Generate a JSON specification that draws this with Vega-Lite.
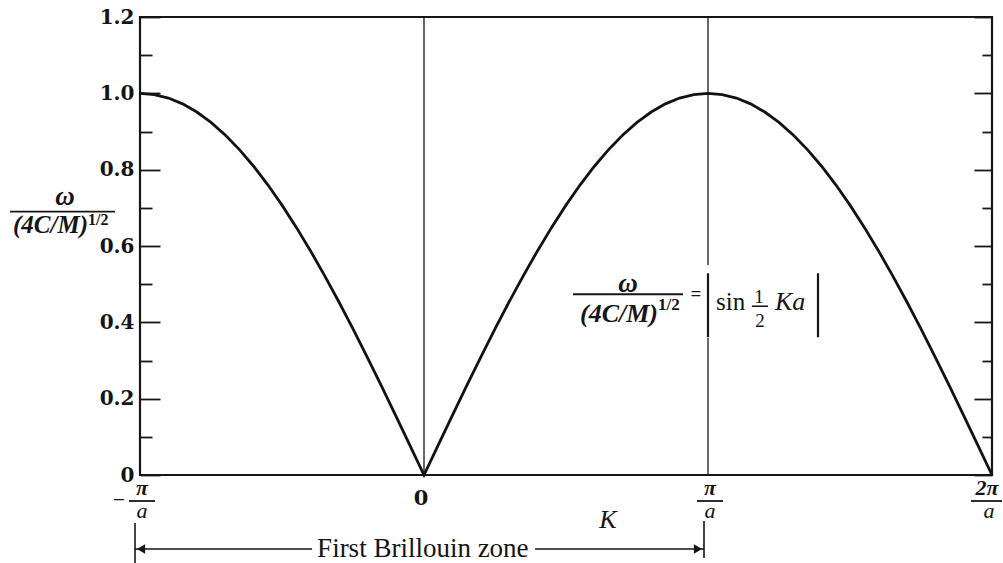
{
  "$schema": "https://vega.github.io/schema/vega-lite/v6.json",
  "width": 852,
  "height": 458,
  "autosize": {"type": "none"},
  "padding": {"left": 140, "top": 17, "right": 11, "bottom": 88},
  "background": "#ffffff",
  "config": {
    "view": {"stroke": "#161616", "strokeWidth": 2.2},
    "font": "Liberation Serif",
    "text": {"color": "#141414", "font": "Liberation Serif"},
    "rule": {"color": "#161616"}
  },
  "datasets": {
    "curve": [
      {"K": -1.0, "w": 1.0}, {"K": -0.95, "w": 0.9969}, {"K": -0.9, "w": 0.9877}, {"K": -0.85, "w": 0.9724},
      {"K": -0.8, "w": 0.9511}, {"K": -0.75, "w": 0.9239}, {"K": -0.7, "w": 0.891}, {"K": -0.65, "w": 0.8526},
      {"K": -0.6, "w": 0.809}, {"K": -0.55, "w": 0.7604}, {"K": -0.5, "w": 0.7071}, {"K": -0.45, "w": 0.6494},
      {"K": -0.4, "w": 0.5878}, {"K": -0.35, "w": 0.5225}, {"K": -0.3, "w": 0.454}, {"K": -0.25, "w": 0.3827},
      {"K": -0.2, "w": 0.309}, {"K": -0.15, "w": 0.2334}, {"K": -0.1, "w": 0.1564}, {"K": -0.05, "w": 0.0785},
      {"K": 0.0, "w": 0.0},
      {"K": 0.05, "w": 0.0785}, {"K": 0.1, "w": 0.1564}, {"K": 0.15, "w": 0.2334}, {"K": 0.2, "w": 0.309},
      {"K": 0.25, "w": 0.3827}, {"K": 0.3, "w": 0.454}, {"K": 0.35, "w": 0.5225}, {"K": 0.4, "w": 0.5878},
      {"K": 0.45, "w": 0.6494}, {"K": 0.5, "w": 0.7071}, {"K": 0.55, "w": 0.7604}, {"K": 0.6, "w": 0.809},
      {"K": 0.65, "w": 0.8526}, {"K": 0.7, "w": 0.891}, {"K": 0.75, "w": 0.9239}, {"K": 0.8, "w": 0.9511},
      {"K": 0.85, "w": 0.9724}, {"K": 0.9, "w": 0.9877}, {"K": 0.95, "w": 0.9969}, {"K": 1.0, "w": 1.0},
      {"K": 1.05, "w": 0.9969}, {"K": 1.1, "w": 0.9877}, {"K": 1.15, "w": 0.9724}, {"K": 1.2, "w": 0.9511},
      {"K": 1.25, "w": 0.9239}, {"K": 1.3, "w": 0.891}, {"K": 1.35, "w": 0.8526}, {"K": 1.4, "w": 0.809},
      {"K": 1.45, "w": 0.7604}, {"K": 1.5, "w": 0.7071}, {"K": 1.55, "w": 0.6494}, {"K": 1.6, "w": 0.5878},
      {"K": 1.65, "w": 0.5225}, {"K": 1.7, "w": 0.454}, {"K": 1.75, "w": 0.3827}, {"K": 1.8, "w": 0.309},
      {"K": 1.85, "w": 0.2334}, {"K": 1.9, "w": 0.1564}, {"K": 1.95, "w": 0.0785}, {"K": 2.0, "w": 0.0}
    ],
    "guides": [
      {"K": 0, "lo": 0, "hi": 1.2},
      {"K": 1, "lo": 0, "hi": 0.359},
      {"K": 1, "lo": 0.55, "hi": 1.2}
    ],
    "pi_over_a": [
      {"K": -1, "num": "π", "den": "a"},
      {"K": 1, "num": "π", "den": "a"}
    ],
    "two_pi_over_a": [
      {"K": 2, "num": "2π", "den": "a"}
    ]
  },
  "data": {"values": [{}]},
  "resolve": {"axis": {"y": "independent"}},
  "layer": [
    {
      "data": {"name": "guides"},
      "mark": {"type": "rule", "strokeWidth": 1.3},
      "encoding": {
        "x": {"field": "K", "type": "quantitative", "scale": {"domain": [-1, 2], "nice": false, "zero": false}, "axis": null},
        "y": {
          "field": "lo", "type": "quantitative",
          "scale": {"domain": [0, 1.2], "nice": false, "zero": false},
          "axis": {
            "orient": "left", "domain": false, "grid": false, "title": null,
            "values": [0, 0.1, 0.2, 0.3, 0.4, 0.5, 0.6, 0.7, 0.8, 0.9, 1, 1.1, 1.2],
            "tickColor": "#161616", "tickWidth": 1.8,
            "tickSize": {"condition": {"test": "round(datum.value*10)%2==0", "value": -20}, "value": -12},
            "labelExpr": "round(datum.value*10)%2==0 ? (datum.value==0 ? '0' : format(datum.value,'.1f')) : ''",
            "labelFont": "DejaVu Serif", "labelFontWeight": "bold", "labelFontSize": 20, "labelColor": "#141414",
            "labelPadding": 26, "labelOverlap": false, "labelBound": false, "labelFlush": false
          }
        },
        "y2": {"field": "hi"}
      }
    },
    {
      "data": {"name": "curve"},
      "mark": {"type": "line", "color": "#121212", "strokeWidth": 2.8, "interpolate": "linear"},
      "encoding": {
        "x": {"field": "K", "type": "quantitative", "scale": {"domain": [-1, 2]}, "axis": null},
        "y": {
          "field": "w", "type": "quantitative",
          "scale": {"domain": [0, 1.2]},
          "axis": {
            "orient": "right", "domain": false, "grid": false, "title": null, "labels": false,
            "values": [0, 0.1, 0.2, 0.3, 0.4, 0.5, 0.6, 0.7, 0.8, 0.9, 1, 1.1, 1.2],
            "tickColor": "#161616", "tickWidth": 1.8,
            "tickSize": {"condition": {"test": "round(datum.value*10)%2==0", "value": -18}, "value": -10}
          }
        }
      }
    },

    {
      "data": {"name": "pi_over_a"},
      "mark": {"type": "text", "fontSize": 22, "fontStyle": "italic", "fontWeight": "bold", "baseline": "alphabetic", "dx": 2, "dy": 20},
      "encoding": {
        "x": {"field": "K", "type": "quantitative", "scale": {"domain": [-1, 2]}, "axis": null},
        "y": {"datum": 0, "type": "quantitative", "scale": {"domain": [0, 1.2]}, "axis": null},
        "text": {"field": "num"}
      }
    },
    {
      "data": {"name": "pi_over_a"},
      "mark": {"type": "rule", "strokeWidth": 1.8, "xOffset": -11, "x2Offset": 15, "yOffset": 26},
      "encoding": {
        "x": {"field": "K", "type": "quantitative", "scale": {"domain": [-1, 2]}, "axis": null},
        "x2": {"field": "K"},
        "y": {"datum": 0, "type": "quantitative", "scale": {"domain": [0, 1.2]}, "axis": null}
      }
    },
    {
      "data": {"name": "pi_over_a"},
      "mark": {"type": "text", "fontSize": 22, "fontStyle": "italic", "baseline": "alphabetic", "dx": 2, "dy": 43},
      "encoding": {
        "x": {"field": "K", "type": "quantitative", "scale": {"domain": [-1, 2]}, "axis": null},
        "y": {"datum": 0, "type": "quantitative", "scale": {"domain": [0, 1.2]}, "axis": null},
        "text": {"field": "den"}
      }
    },
    {
      "mark": {"type": "text", "text": "−", "fontSize": 22, "baseline": "middle", "dx": -21, "dy": 25},
      "encoding": {
        "x": {"datum": -1, "type": "quantitative", "scale": {"domain": [-1, 2]}, "axis": null},
        "y": {"datum": 0, "type": "quantitative", "scale": {"domain": [0, 1.2]}, "axis": null}
      }
    },
    {
      "data": {"name": "two_pi_over_a"},
      "mark": {"type": "text", "fontSize": 22, "fontStyle": "italic", "fontWeight": "bold", "baseline": "alphabetic", "dx": -5, "dy": 20},
      "encoding": {
        "x": {"field": "K", "type": "quantitative", "scale": {"domain": [-1, 2]}, "axis": null},
        "y": {"datum": 0, "type": "quantitative", "scale": {"domain": [0, 1.2]}, "axis": null},
        "text": {"field": "num"}
      }
    },
    {
      "data": {"name": "two_pi_over_a"},
      "mark": {"type": "rule", "strokeWidth": 1.8, "xOffset": -21, "x2Offset": 10, "yOffset": 26},
      "encoding": {
        "x": {"field": "K", "type": "quantitative", "scale": {"domain": [-1, 2]}, "axis": null},
        "x2": {"field": "K"},
        "y": {"datum": 0, "type": "quantitative", "scale": {"domain": [0, 1.2]}, "axis": null}
      }
    },
    {
      "data": {"name": "two_pi_over_a"},
      "mark": {"type": "text", "fontSize": 22, "fontStyle": "italic", "baseline": "alphabetic", "dx": -3, "dy": 43},
      "encoding": {
        "x": {"field": "K", "type": "quantitative", "scale": {"domain": [-1, 2]}, "axis": null},
        "y": {"datum": 0, "type": "quantitative", "scale": {"domain": [0, 1.2]}, "axis": null},
        "text": {"field": "den"}
      }
    },
    {
      "mark": {"type": "text", "text": "0", "font": "DejaVu Serif", "fontWeight": "bold", "fontSize": 21, "baseline": "middle", "dx": -3, "dy": 24},
      "encoding": {
        "x": {"datum": 0, "type": "quantitative", "scale": {"domain": [-1, 2]}, "axis": null},
        "y": {"datum": 0, "type": "quantitative", "scale": {"domain": [0, 1.2]}, "axis": null}
      }
    },
    {
      "mark": {"type": "text", "text": "K", "fontSize": 26, "fontStyle": "italic", "baseline": "middle", "dy": 45},
      "encoding": {
        "x": {"datum": 0.648, "type": "quantitative", "scale": {"domain": [-1, 2]}, "axis": null},
        "y": {"datum": 0, "type": "quantitative", "scale": {"domain": [0, 1.2]}, "axis": null}
      }
    },

    {
      "mark": {"type": "rule", "strokeWidth": 1.6, "xOffset": -5, "yOffset": 48, "y2Offset": 88},
      "encoding": {
        "x": {"datum": -1, "type": "quantitative", "scale": {"domain": [-1, 2]}, "axis": null},
        "y": {"datum": 0, "type": "quantitative", "scale": {"domain": [0, 1.2]}, "axis": null},
        "y2": {"datum": 0}
      }
    },
    {
      "mark": {"type": "rule", "strokeWidth": 1.6, "xOffset": -4, "yOffset": 46, "y2Offset": 83},
      "encoding": {
        "x": {"datum": 1, "type": "quantitative", "scale": {"domain": [-1, 2]}, "axis": null},
        "y": {"datum": 0, "type": "quantitative", "scale": {"domain": [0, 1.2]}, "axis": null},
        "y2": {"datum": 0}
      }
    },
    {
      "mark": {"type": "rule", "strokeWidth": 1.5, "xOffset": -5, "yOffset": 74},
      "encoding": {
        "x": {"datum": -1, "type": "quantitative", "scale": {"domain": [-1, 2]}, "axis": null},
        "x2": {"datum": -0.394},
        "y": {"datum": 0, "type": "quantitative", "scale": {"domain": [0, 1.2]}, "axis": null}
      }
    },
    {
      "mark": {"type": "rule", "strokeWidth": 1.5, "x2Offset": -4, "yOffset": 74},
      "encoding": {
        "x": {"datum": 0.391, "type": "quantitative", "scale": {"domain": [-1, 2]}, "axis": null},
        "x2": {"datum": 1},
        "y": {"datum": 0, "type": "quantitative", "scale": {"domain": [0, 1.2]}, "axis": null}
      }
    },
    {
      "mark": {"type": "point", "shape": "triangle-left", "filled": true, "size": 90, "opacity": 1, "color": "#161616", "xOffset": 1, "yOffset": 74},
      "encoding": {
        "x": {"datum": -1, "type": "quantitative", "scale": {"domain": [-1, 2]}, "axis": null},
        "y": {"datum": 0, "type": "quantitative", "scale": {"domain": [0, 1.2]}, "axis": null}
      }
    },
    {
      "mark": {"type": "point", "shape": "triangle-right", "filled": true, "size": 90, "opacity": 1, "color": "#161616", "xOffset": -10, "yOffset": 74},
      "encoding": {
        "x": {"datum": 1, "type": "quantitative", "scale": {"domain": [-1, 2]}, "axis": null},
        "y": {"datum": 0, "type": "quantitative", "scale": {"domain": [0, 1.2]}, "axis": null}
      }
    },
    {
      "mark": {"type": "text", "text": "First Brillouin zone", "fontSize": 27, "baseline": "middle", "dy": 74},
      "encoding": {
        "x": {"datum": -0.004, "type": "quantitative", "scale": {"domain": [-1, 2]}, "axis": null},
        "y": {"datum": 0, "type": "quantitative", "scale": {"domain": [0, 1.2]}, "axis": null}
      }
    },

    {
      "mark": {"type": "text", "text": "ω", "fontSize": 27, "fontStyle": "italic", "fontWeight": "bold", "baseline": "alphabetic", "dx": -75, "dy": -7},
      "encoding": {
        "x": {"datum": -1, "type": "quantitative", "scale": {"domain": [-1, 2]}, "axis": null},
        "y": {"datum": 0.69, "type": "quantitative", "scale": {"domain": [0, 1.2]}, "axis": null}
      }
    },
    {
      "mark": {"type": "rule", "strokeWidth": 1.8, "xOffset": -130, "x2Offset": -25, "yOffset": 0},
      "encoding": {
        "x": {"datum": -1, "type": "quantitative", "scale": {"domain": [-1, 2]}, "axis": null},
        "x2": {"datum": -1},
        "y": {"datum": 0.69, "type": "quantitative", "scale": {"domain": [0, 1.2]}, "axis": null}
      }
    },
    {
      "mark": {"type": "text", "text": "(4C/M)", "fontSize": 25, "fontStyle": "italic", "fontWeight": "bold", "align": "right", "baseline": "alphabetic", "dx": -52, "dy": 21},
      "encoding": {
        "x": {"datum": -1, "type": "quantitative", "scale": {"domain": [-1, 2]}, "axis": null},
        "y": {"datum": 0.69, "type": "quantitative", "scale": {"domain": [0, 1.2]}, "axis": null}
      }
    },
    {
      "mark": {"type": "text", "text": "1/2", "fontSize": 16, "fontWeight": "bold", "align": "left", "baseline": "alphabetic", "dx": -52, "dy": 13},
      "encoding": {
        "x": {"datum": -1, "type": "quantitative", "scale": {"domain": [-1, 2]}, "axis": null},
        "y": {"datum": 0.69, "type": "quantitative", "scale": {"domain": [0, 1.2]}, "axis": null}
      }
    },

    {
      "mark": {"type": "text", "text": "ω", "fontSize": 27, "fontStyle": "italic", "fontWeight": "bold", "baseline": "alphabetic", "dx": -80, "dy": -11},
      "encoding": {
        "x": {"datum": 1, "type": "quantitative", "scale": {"domain": [-1, 2]}, "axis": null},
        "y": {"datum": 0.45, "type": "quantitative", "scale": {"domain": [0, 1.2]}, "axis": null}
      }
    },
    {
      "mark": {"type": "rule", "strokeWidth": 1.8, "xOffset": -135, "x2Offset": -25, "yOffset": -9},
      "encoding": {
        "x": {"datum": 1, "type": "quantitative", "scale": {"domain": [-1, 2]}, "axis": null},
        "x2": {"datum": 1},
        "y": {"datum": 0.45, "type": "quantitative", "scale": {"domain": [0, 1.2]}, "axis": null}
      }
    },
    {
      "mark": {"type": "text", "text": "(4C/M)", "fontSize": 26, "fontStyle": "italic", "fontWeight": "bold", "align": "right", "baseline": "alphabetic", "dx": -50, "dy": 19},
      "encoding": {
        "x": {"datum": 1, "type": "quantitative", "scale": {"domain": [-1, 2]}, "axis": null},
        "y": {"datum": 0.45, "type": "quantitative", "scale": {"domain": [0, 1.2]}, "axis": null}
      }
    },
    {
      "mark": {"type": "text", "text": "1/2", "fontSize": 17, "fontWeight": "bold", "align": "left", "baseline": "alphabetic", "dx": -50, "dy": 7},
      "encoding": {
        "x": {"datum": 1, "type": "quantitative", "scale": {"domain": [-1, 2]}, "axis": null},
        "y": {"datum": 0.45, "type": "quantitative", "scale": {"domain": [0, 1.2]}, "axis": null}
      }
    },
    {
      "mark": {"type": "text", "text": "=", "fontSize": 19, "fontWeight": "bold", "baseline": "middle", "dx": -12, "dy": -9},
      "encoding": {
        "x": {"datum": 1, "type": "quantitative", "scale": {"domain": [-1, 2]}, "axis": null},
        "y": {"datum": 0.45, "type": "quantitative", "scale": {"domain": [0, 1.2]}, "axis": null}
      }
    },
    {
      "mark": {"type": "rule", "strokeWidth": 2.2, "xOffset": 0, "yOffset": -30, "y2Offset": 34},
      "encoding": {
        "x": {"datum": 1, "type": "quantitative", "scale": {"domain": [-1, 2]}, "axis": null},
        "y": {"datum": 0.45, "type": "quantitative", "scale": {"domain": [0, 1.2]}, "axis": null},
        "y2": {"datum": 0.45}
      }
    },
    {
      "mark": {"type": "text", "text": "sin", "fontSize": 25, "align": "left", "baseline": "alphabetic", "dx": 8, "dy": 7},
      "encoding": {
        "x": {"datum": 1, "type": "quantitative", "scale": {"domain": [-1, 2]}, "axis": null},
        "y": {"datum": 0.45, "type": "quantitative", "scale": {"domain": [0, 1.2]}, "axis": null}
      }
    },
    {
      "mark": {"type": "text", "text": "1", "fontSize": 19, "baseline": "alphabetic", "dx": 51, "dy": 0},
      "encoding": {
        "x": {"datum": 1, "type": "quantitative", "scale": {"domain": [-1, 2]}, "axis": null},
        "y": {"datum": 0.45, "type": "quantitative", "scale": {"domain": [0, 1.2]}, "axis": null}
      }
    },
    {
      "mark": {"type": "rule", "strokeWidth": 1.6, "xOffset": 44, "x2Offset": 60, "yOffset": 3},
      "encoding": {
        "x": {"datum": 1, "type": "quantitative", "scale": {"domain": [-1, 2]}, "axis": null},
        "x2": {"datum": 1},
        "y": {"datum": 0.45, "type": "quantitative", "scale": {"domain": [0, 1.2]}, "axis": null}
      }
    },
    {
      "mark": {"type": "text", "text": "2", "fontSize": 19, "baseline": "alphabetic", "dx": 52, "dy": 24},
      "encoding": {
        "x": {"datum": 1, "type": "quantitative", "scale": {"domain": [-1, 2]}, "axis": null},
        "y": {"datum": 0.45, "type": "quantitative", "scale": {"domain": [0, 1.2]}, "axis": null}
      }
    },
    {
      "mark": {"type": "text", "text": "Ka", "fontSize": 26, "fontStyle": "italic", "align": "left", "baseline": "alphabetic", "dx": 67, "dy": 7},
      "encoding": {
        "x": {"datum": 1, "type": "quantitative", "scale": {"domain": [-1, 2]}, "axis": null},
        "y": {"datum": 0.45, "type": "quantitative", "scale": {"domain": [0, 1.2]}, "axis": null}
      }
    },
    {
      "mark": {"type": "rule", "strokeWidth": 2.2, "xOffset": 110, "yOffset": -30, "y2Offset": 34},
      "encoding": {
        "x": {"datum": 1, "type": "quantitative", "scale": {"domain": [-1, 2]}, "axis": null},
        "y": {"datum": 0.45, "type": "quantitative", "scale": {"domain": [0, 1.2]}, "axis": null},
        "y2": {"datum": 0.45}
      }
    }
  ]
}
